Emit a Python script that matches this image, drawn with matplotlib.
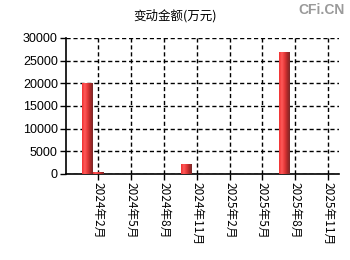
import matplotlib
matplotlib.use("Agg")
import matplotlib.pyplot as plt
import matplotlib.dates as mdates
import numpy as np
import datetime as dt

plt.rcParams['font.family'] = ['Liberation Sans', 'Noto Sans CJK SC', 'DejaVu Sans']

bar_dates = ["2024-01-01", "2024-02-01", "2024-10-01", "2025-07-01"]
bar_values = [20000, 400, 2200, 26700]
tick_dates = ["2024-02-01", "2024-05-01", "2024-08-01", "2024-11-01",
              "2025-02-01", "2025-05-01", "2025-08-01", "2025-11-01"]
tick_labels = ["2024年2月", "2024年5月", "2024年8月", "2024年11月",
               "2025年2月", "2025年5月", "2025年8月", "2025年11月"]
y_ticks = [0, 5000, 10000, 15000, 20000, 25000, 30000]
title = "变动金额(万元)"

fig = plt.figure(figsize=(3.5, 2.6), dpi=100)
ax = fig.add_axes([0.189, 0.331, 0.78, 0.523])

xd = [mdates.date2num(dt.datetime.fromisoformat(d)) for d in bar_dates]
width = 29
ax.bar(xd, bar_values, width=width, color='#e8262b', zorder=3)
# gradient overlay
grad = np.linspace(0, 1, 64).reshape(1, -1)
from matplotlib.colors import LinearSegmentedColormap
cmap = LinearSegmentedColormap.from_list('g', ['#f03030', '#ff5a5a', '#e83a3a', '#b02828', '#7a2a2a'])
for x, v in zip(xd, bar_values):
    ax.imshow(grad, extent=[x - width / 2, x + width / 2, 0, v], aspect='auto',
              cmap=cmap, zorder=4, interpolation='bilinear')

ax.set_xlim(mdates.date2num(dt.datetime(2023, 11, 4)), mdates.date2num(dt.datetime(2025, 12, 1)))
ax.set_ylim(0, 30000)
ax.set_yticks(y_ticks)
ax.set_yticklabels([str(v) for v in y_ticks], fontsize=9)
tx = [mdates.date2num(dt.datetime.fromisoformat(d)) for d in tick_dates]
ax.set_xticks(tx)
ax.set_xticklabels(tick_labels, rotation=270, fontsize=8.5,
                   family=['Noto Sans CJK SC', 'DejaVu Sans'], va='top', ha='center')
ax.grid(True, color='black', linestyle=(0, (3, 2)), linewidth=1.0, zorder=1)
ax.set_axisbelow(True)
for s in ['top', 'right']:
    ax.spines[s].set_visible(False)
ax.spines['left'].set_linewidth(1.2)
ax.spines['bottom'].set_linewidth(1.2)
ax.tick_params(axis='both', direction='out', length=4, width=1, pad=2)

fig.text(0.5, 0.94, title, ha='center', va='center', fontsize=9,
         family=['Noto Sans CJK SC', 'DejaVu Sans'])
fig.text(0.985, 0.96, "CFi.CN", ha='right', va='center', fontsize=10,
         color='#9a9a9a', fontweight='bold')

fig.savefig("out.png", dpi=100)
